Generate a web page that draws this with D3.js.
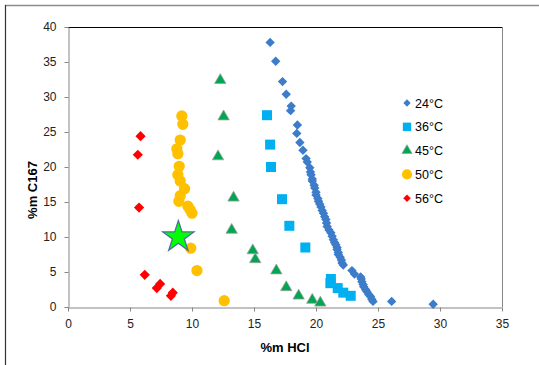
<!DOCTYPE html>
<html>
<head>
<meta charset="utf-8">
<script src="https://cdn.jsdelivr.net/npm/d3@7"></script>
<style>
  body { margin: 0; background: #fff; }
  text { font-family: "Liberation Sans", Arial, sans-serif; fill: #000; }
  .axis-text { font-size: 12px; fill: #222; }
  .axis-title { font-size: 13px; font-weight: bold; }
  .legend-text { font-size: 12.5px; }
</style>
</head>
<body>
<div id="chart"></div>
<script>
// series data: [%m HCl, %m C167]
const t24 = [[16.3, 37.8], [16.75, 35.1], [17.3, 32.2], [17.6, 30.4], [18.0, 28.7], [17.95, 28.05],
  [18.5, 26.0], [18.45, 24.8], [18.7, 23.5], [18.95, 22.4], [19.2, 21.2], [19.3, 20.7], [19.5, 19.9],
  [19.55, 19.3], [19.6, 18.9], [19.7, 18.3], [19.7, 18.0], [19.85, 17.4], [19.9, 17.0], [20.0, 16.4],
  [20.0, 16.0], [20.15, 15.5], [20.2, 15.1], [20.3, 14.7], [20.4, 14.3], [20.5, 13.8], [20.6, 13.4],
  [20.7, 12.9], [20.8, 12.5], [20.85, 12.0], [20.9, 11.5], [21.05, 11.0], [21.2, 10.6], [21.3, 10.1],
  [21.4, 9.6], [21.5, 9.2], [21.6, 8.9], [21.7, 8.5], [21.7, 8.2], [21.8, 7.8], [21.8, 7.5],
  [21.95, 7.1], [22.05, 6.7], [22.1, 6.3], [22.2, 6.0], [22.9, 5.2], [23.1, 4.7], [23.6, 4.3],
  [23.65, 4.0], [23.7, 3.6], [23.8, 3.2], [23.85, 2.9], [24.0, 2.5], [24.1, 2.2], [24.25, 1.8],
  [24.4, 1.5], [24.5, 1.1], [24.6, 0.8], [26.1, 0.8], [29.45, 0.4]];
const t36 = [[16.05, 27.4], [16.3, 23.2], [16.37, 20.0], [17.26, 15.4], [17.85, 11.6], [19.14, 8.5],
  [21.2, 4.0], [21.16, 3.4], [21.75, 2.7], [22.2, 2.05], [22.8, 1.6]];
const t45 = [[12.28, 32.4], [12.55, 27.2], [12.1, 21.5], [13.35, 15.6], [13.2, 11.0], [14.9, 8.07],
  [15.1, 6.8], [16.8, 5.2], [17.6, 2.8], [18.6, 1.6], [19.7, 1.0], [20.35, 0.6]];
const t50 = [[9.18, 27.3], [9.26, 26.1], [9.05, 23.85], [8.78, 22.6], [8.86, 21.9], [8.97, 20.1],
  [8.86, 18.9], [9.05, 18.0], [9.4, 16.9], [9.05, 15.9], [8.94, 15.1], [9.67, 14.4], [9.85, 13.9],
  [10.0, 13.4], [9.9, 8.4], [10.4, 5.2], [12.6, 0.9]];
const t56 = [[5.85, 24.4], [5.63, 21.75], [5.73, 14.2], [6.19, 4.6], [7.43, 3.3], [7.16, 2.7],
  [8.45, 2.05], [8.3, 1.6]];
const starPoint = [[8.9, 10.0]];

const xTicks = [0, 5, 10, 15, 20, 25, 30, 35];
const yTicks = [0, 5, 10, 15, 20, 25, 30, 35, 40];
const seriesNames = ['24°C', '36°C', '45°C', '50°C', '56°C'];

const width = 539, height = 365;
const plot = {left: 68, top: 27, right: 502, bottom: 307};

const svg = d3.select('#chart').append('svg')
  .attr('width', width)
  .attr('height', height);

// outer chart frame (only top and left edges are inside the picture)
svg.append('line').attr('x1', 5).attr('x2', width).attr('y1', 5.5).attr('y2', 5.5)
  .attr('stroke', '#8c8c8c').attr('stroke-width', 1.5);
svg.append('line').attr('x1', 5.5).attr('x2', 5.5).attr('y1', 5).attr('y2', height)
  .attr('stroke', '#333').attr('stroke-width', 1.2);

const x = d3.scaleLinear().domain([0, 35]).range([plot.left, plot.right]);
const y = d3.scaleLinear().domain([0, 40]).range([plot.bottom, plot.top]);

// plot area box: top edge black, right edge grey
svg.append('line').attr('x1', plot.left).attr('x2', plot.right).attr('y1', plot.top + 0.5).attr('y2', plot.top + 0.5)
  .attr('stroke', '#000');
svg.append('line').attr('x1', plot.right + 0.5).attr('x2', plot.right + 0.5).attr('y1', plot.top).attr('y2', plot.bottom)
  .attr('stroke', '#868686');

const axisX = svg.append('g')
  .attr('transform', 'translate(0,' + (plot.bottom + 0.5) + ')')
  .call(d3.axisBottom(x).tickValues(xTicks).tickSize(4).tickPadding(8).tickSizeOuter(0));
const axisY = svg.append('g')
  .attr('transform', 'translate(' + (plot.left + 0.5) + ',0)')
  .call(d3.axisLeft(y).tickValues(yTicks).tickSize(4).tickPadding(8).tickSizeOuter(0));

[axisX, axisY].forEach(a => {
  a.select('path').attr('stroke', '#868686');
  a.selectAll('g.tick line').attr('stroke', '#868686');
  a.selectAll('g.tick text').attr('class', 'axis-text');
});

svg.append('text')
  .attr('class', 'axis-title')
  .attr('x', 285).attr('y', 352)
  .attr('text-anchor', 'middle')
  .text('%m HCl');

svg.append('text')
  .attr('class', 'axis-title')
  .attr('transform', 'translate(37,190) rotate(-90)')
  .attr('text-anchor', 'middle')
  .text('%m C167');

// marker styles
const styles = [
  {data: t24, shape: d3.symbolSquare, size: 44, rotate: 45, fill: '#3d7cc9', stroke: 'none'},
  {data: t36, shape: d3.symbolSquare, size: 100, rotate: 0, fill: '#00b0f0', stroke: 'none'},
  {data: t45, shape: d3.symbolTriangle, size: 56, rotate: 0, fill: '#00a651', stroke: '#a0a0a0'},
  {data: t50, shape: d3.symbolCircle, size: 100, rotate: 0, fill: '#ffc000', stroke: 'none'},
  {data: t56, shape: d3.symbolSquare, size: 52, rotate: 45, fill: '#ff0000', stroke: 'none'}
];

styles.forEach(s => {
  svg.append('g').selectAll('path')
    .data(s.data)
    .enter().append('path')
    .attr('d', d3.symbol().type(s.shape).size(s.size))
    .attr('transform', d => 'translate(' + x(d[0]) + ',' + y(d[1]) + ') rotate(' + s.rotate + ')')
    .attr('fill', s.fill)
    .attr('stroke', s.stroke)
    .attr('stroke-width', 0.8);
});

// the green star
svg.append('g').selectAll('path')
  .data(starPoint)
  .enter().append('path')
  .attr('d', d3.symbol().type(d3.symbolStar).size(300))
  .attr('transform', d => 'translate(' + x(d[0]) + ',' + y(d[1]) + ')')
  .attr('fill', '#00ff00')
  .attr('stroke', '#4a6fa0')
  .attr('stroke-width', 1.3);

// legend
const legend = svg.append('g').attr('class', 'legend')
  .attr('transform', 'translate(407,103)');
const legendScale = [0.6, 0.7, 0.8, 0.8, 0.55];

seriesNames.forEach((name, i) => {
  const s = styles[i];
  const row = legend.append('g').attr('transform', 'translate(0,' + (i * 23.8) + ')');
  row.append('path')
    .attr('d', d3.symbol().type(s.shape).size(s.size * legendScale[i]))
    .attr('transform', 'rotate(' + s.rotate + ')')
    .attr('fill', s.fill)
    .attr('stroke', s.stroke)
    .attr('stroke-width', 0.8);
  row.append('text')
    .attr('class', 'legend-text')
    .attr('x', 8).attr('dy', '0.36em')
    .text(name);
});
</script>
</body>
</html>
